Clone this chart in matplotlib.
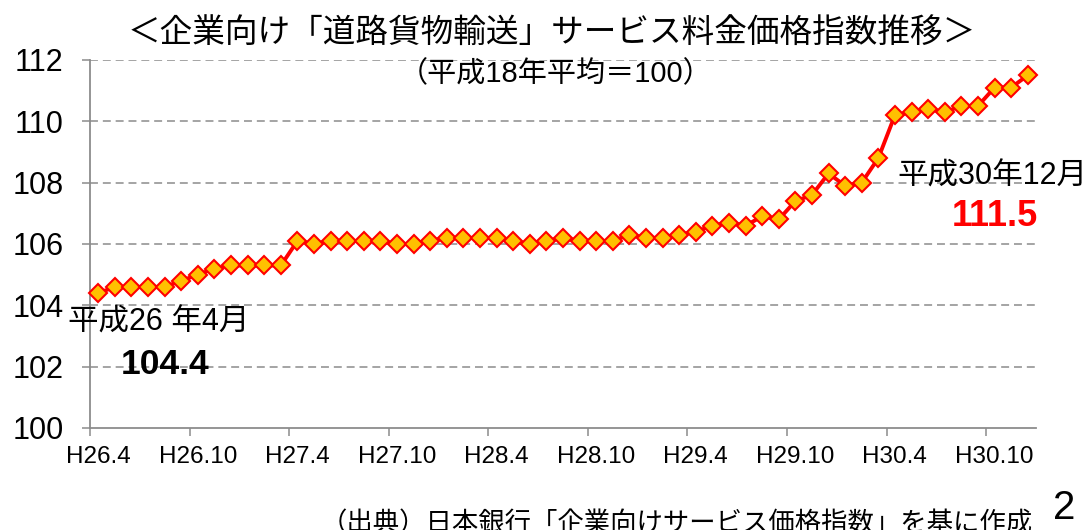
import matplotlib
matplotlib.use("Agg")
import matplotlib.pyplot as plt
from matplotlib.ticker import FixedLocator, FixedFormatter
import numpy as np

plt.rcParams['font.family'] = ['Liberation Sans', 'Noto Sans CJK JP', 'DejaVu Sans']

# ---- data ----
values = [104.4, 104.6, 104.6, 104.6, 104.6, 104.8, 105.0, 105.2, 105.3, 105.3,
          105.3, 105.3, 106.1, 106.0, 106.1, 106.1, 106.1, 106.1, 106.0, 106.0,
          106.1, 106.2, 106.2, 106.2, 106.2, 106.1, 106.0, 106.1, 106.2, 106.1,
          106.1, 106.1, 106.3, 106.2, 106.2, 106.3, 106.4, 106.6, 106.7, 106.6,
          106.9, 106.8, 107.4, 107.6, 108.3, 107.9, 108.0, 108.8, 110.2, 110.3,
          110.4, 110.3, 110.5, 110.5, 111.1, 111.1, 111.5]
tick_labels = ["H26.4", "H26.10", "H27.4", "H27.10", "H28.4", "H28.10",
               "H29.4", "H29.10", "H30.4", "H30.10"]
y_ticks = [100, 102, 104, 106, 108, 110, 112]
title = "＜企業向け「道路貨物輸送」サービス料金価格指数推移＞"
subtitle = "（平成18年平均＝100）"
start_label = "平成26 年4月"
start_value = "104.4"
end_label = "平成30年12月"
end_value = "111.5"
source = "（出典）日本銀行「企業向けサービス価格指数」を基に作成"
page_no = "2"

W, H = 1091, 530
fig = plt.figure(figsize=(W / 100, H / 100), dpi=100)
ax = fig.add_axes([90 / W, 1 - 428 / H, (1036 - 90) / W, (428 - 60) / H])

x = np.arange(len(values))
ax.plot(x, values, color='#FF0000', lw=2.8, marker='D', markersize=9.3,
        markerfacecolor='#FFC000', markeredgecolor='#FF0000', markeredgewidth=1.5,
        zorder=3, clip_on=False)

ax.set_xlim(-0.5, len(values) - 0.5)
ax.set_ylim(100, 112)

grid_color = '#8C8C8C'
ax.set_yticks(y_ticks)
ax.set_yticklabels([str(v) for v in y_ticks])
for v in y_ticks[1:]:
    ax.axhline(v, color=grid_color, lw=1.1, ls=(0, (5.2, 3.2)), zorder=1)

major_pos = list(range(0, len(values), 6))[:len(tick_labels)]
ax.xaxis.set_major_locator(FixedLocator(major_pos))
ax.xaxis.set_major_formatter(FixedFormatter(tick_labels))
ax.xaxis.set_minor_locator(FixedLocator([p - 0.5 for p in major_pos]))
ax.tick_params(axis='x', which='major', length=0, pad=13, labelsize=17.5)
ax.tick_params(axis='x', which='minor', length=6, width=1.1, color=grid_color)
ax.tick_params(axis='y', which='major', length=6, width=1.1, color=grid_color,
               pad=13, labelsize=22)

for s in ['top', 'right']:
    ax.spines[s].set_visible(False)
for s in ['left', 'bottom']:
    ax.spines[s].set_color(grid_color)
    ax.spines[s].set_linewidth(1.3)


def px(xp, yp):
    return xp / W, 1 - yp / H


fig.text(*px(552, 33), title, ha='center', va='center', fontsize=23.5)
fig.text(*px(556, 74), subtitle, ha='center', va='center', fontsize=21)
fig.text(*px(68, 323), start_label, ha='left', va='center', fontsize=22)
fig.text(*px(165, 364), start_value, ha='center', va='center', fontsize=25.5,
         fontweight='bold')
fig.text(*px(897, 177), end_label, ha='left', va='center', fontsize=22)
fig.text(*px(995, 216), end_value, ha='center', va='center', fontsize=26,
         fontweight='bold', color='#FF0000')
fig.text(*px(1033, 511), source, ha='right', va='top', fontsize=19)
fig.text(*px(1064, 508), page_no, ha='center', va='center', fontsize=29)

fig.savefig("out.png", dpi=100)
